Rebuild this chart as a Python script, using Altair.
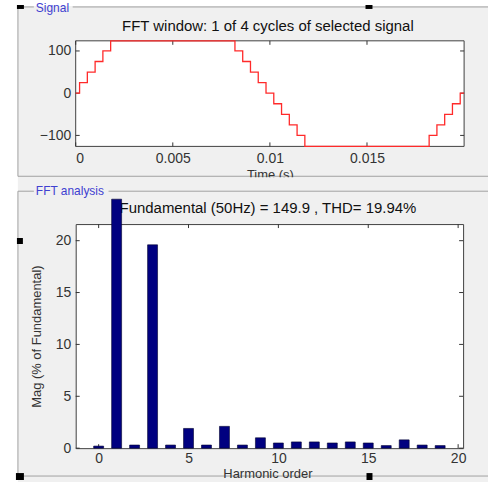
import altair as alt
import pandas as pd

# ---------------- data ----------------
# staircase signal: time (s) at which each level starts, and the level
sig_t = [0.0, 0.0002, 0.0006, 0.0010, 0.0014, 0.0018,
         0.0082, 0.0086, 0.0090, 0.0094, 0.0098, 0.0102, 0.0106, 0.0110, 0.0114, 0.0118,
         0.0182, 0.0186, 0.0190, 0.0194, 0.0198, 0.0200]
sig_v = [0, 25, 50, 75, 100, 124,
         100, 75, 50, 25, 0, -25, -50, -75, -100, -126,
         -100, -75, -50, -25, 0, 0]
time_ticks = [0, 0.005, 0.01, 0.015]
sig_ticks = [-100, 0, 100]

harm = list(range(20))
mag = [0.2, 24.0, 0.3, 19.6, 0.3, 1.9, 0.3, 2.1, 0.3, 1.0,
       0.5, 0.6, 0.6, 0.5, 0.6, 0.5, 0.25, 0.8, 0.3, 0.25]
harm_ticks = [0, 5, 10, 15, 20]
mag_ticks = [0, 5, 10, 15, 20]

top_title = "FFT window: 1 of 4 cycles of selected signal"
bot_title = "Fundamental (50Hz) = 149.9 , THD= 19.94%"

# ---------------- layout ----------------
CW, CH = 489, 482
L, T1 = 75, 39
W1, H1 = 390, 106
W2, H2 = 389, 225
GAP = 78
T2 = T1 + H1 + GAP

FONT = "Liberation Sans"
GRAY = "#f0f0f0"
FRAME = "#a0a0a0"
BLUE = "#4040d0"
one = pd.DataFrame({"k": [0]})


def box(x0, y0, x1, y1, ox, oy, **kw):
    return alt.Chart(one).mark_rect(**kw).encode(
        x=alt.value(x0 - ox), x2=alt.value(x1 - ox),
        y=alt.value(y0 - oy), y2=alt.value(y1 - oy))


def hline(x0, x1, y, ox, oy, color=FRAME):
    return alt.Chart(one).mark_rule(color=color, strokeWidth=1).encode(
        x=alt.value(x0 - ox), x2=alt.value(x1 - ox), y=alt.value(y - oy))


def vline(x, y0, y1, ox, oy, color=FRAME):
    return alt.Chart(one).mark_rule(color=color, strokeWidth=1).encode(
        x=alt.value(x - ox), y=alt.value(y0 - oy), y2=alt.value(y1 - oy))


def label(txt, x, y, ox, oy, **kw):
    return alt.Chart(one).mark_text(text=txt, font=FONT, **kw).encode(
        x=alt.value(x - ox), y=alt.value(y - oy))


def inward_ticks(vals, field, scale, axis_ch, W, H):
    df = pd.DataFrame({field: vals})
    b = alt.Chart(df)
    if axis_ch == "x":
        enc = alt.X(f"{field}:Q", scale=scale)
        return [b.mark_rule(color="#333", strokeWidth=1).encode(x=enc, y=alt.value(0), y2=alt.value(4)),
                b.mark_rule(color="#333", strokeWidth=1).encode(x=enc, y=alt.value(H - 4), y2=alt.value(H))]
    enc = alt.Y(f"{field}:Q", scale=scale)
    return [b.mark_rule(color="#333", strokeWidth=1).encode(y=enc, x=alt.value(0), x2=alt.value(4)),
            b.mark_rule(color="#333", strokeWidth=1).encode(y=enc, x=alt.value(W - 4), x2=alt.value(W))]


# ---------------- top panel ----------------
xs1 = alt.Scale(domain=[0, 0.02], nice=False, zero=False)
ys1 = alt.Scale(domain=[-126, 124], nice=False, zero=False)

sig_df = pd.DataFrame({"t": sig_t, "v": sig_v})
sig_line = alt.Chart(sig_df).mark_line(color="#ff2a2a", strokeWidth=1.3, interpolate="step-after").encode(
    x=alt.X("t:Q", scale=xs1,
            axis=alt.Axis(values=time_ticks, format="~g", title="Time (s)", titlePadding=3, zindex=1)),
    y=alt.Y("v:Q", scale=ys1, axis=alt.Axis(values=sig_ticks, title=None, zindex=1)),
)

top_layers = [
    box(0, 0, CW, CH, L, T1, fill="white"),
    box(17, 4, CW, CH, L, T1, fill=GRAY),
    hline(17, 33, 5, L, T1), hline(72, CW, 5, L, T1),
    vline(17, 5, 175, L, T1), hline(17, CW, 175, L, T1),
    label("Signal", 35, 6, L, T1, align="left", baseline="middle", fontSize=12, color=BLUE),
    box(16, 3, 23, 7, L, T1, fill="black"),
    box(366, 3, 373, 7, L, T1, fill="black"),
    label(top_title, 268, 29, L, T1, align="center", baseline="alphabetic", fontSize=15, color="#111"),
    box(0, 0, W1, H1, 0, 0, fill="white", stroke="#404040", strokeWidth=1),
] + inward_ticks(time_ticks, "t", xs1, "x", W1, H1) + inward_ticks(sig_ticks, "v", ys1, "y", W1, H1) + [sig_line]

top = alt.layer(*top_layers).properties(width=W1, height=H1)

# ---------------- bottom panel ----------------
xs2 = alt.Scale(domain=[-1, 20], nice=False, zero=False)
ys2 = alt.Scale(domain=[0, 21.6], nice=False)

bar_df = pd.DataFrame({"h": harm, "m": mag})
bars = alt.Chart(bar_df).mark_bar(size=10, fill="#000080", stroke="#000030", strokeWidth=0.6).encode(
    x=alt.X("h:Q", scale=xs2, axis=alt.Axis(values=harm_ticks, title=None, labelPadding=3, zindex=1)),
    y=alt.Y("m:Q", scale=ys2,
            axis=alt.Axis(values=mag_ticks, title="Mag (% of Fundamental)", titlePadding=12,
                          titleFontSize=13, zindex=1)),
)

bot_layers = [
    box(17, 176, CW, 189, L, T2, fill=GRAY),
    hline(17, 33, 190, L, T2), hline(108, CW, 190, L, T2),
    vline(17, 190, 476, L, T2), hline(17, CW, 476, L, T2),
    label("FFT analysis", 35, 190, L, T2, align="left", baseline="middle", fontSize=12, color=BLUE),
    box(16, 237, 22, 243, L, T2, fill="black"),
    box(15, 473, 23, 480, L, T2, fill="black"),
    box(367, 473, 373, 480, L, T2, fill="black"),
    label(bot_title, 268, 212, L, T2, align="center", baseline="alphabetic", fontSize=15, color="#111"),
] + inward_ticks(harm_ticks, "h", xs2, "x", W2, H2) + inward_ticks(mag_ticks, "m", ys2, "y", W2, H2) + [
    bars,
    label("Harmonic order", 268, 481, L, T2, align="center", baseline="bottom", fontSize=13, color="#333"),
]

bottom = alt.layer(*bot_layers).properties(width=W2, height=H2)

chart = alt.vconcat(top, bottom, spacing=GAP, bounds="flush").properties(
    padding=0, background="white"
).configure_view(
    stroke="#404040", fill="white"
).configure_axis(
    labelFont=FONT, labelFontSize=14, labelColor="#333",
    titleFont=FONT, titleFontSize=13, titleFontWeight="normal", titleColor="#333",
    domain=False, ticks=False, tickSize=0, grid=False, labelPadding=5,
)

chart.save("out.html", embed_options={"renderer": "svg", "actions": False})
